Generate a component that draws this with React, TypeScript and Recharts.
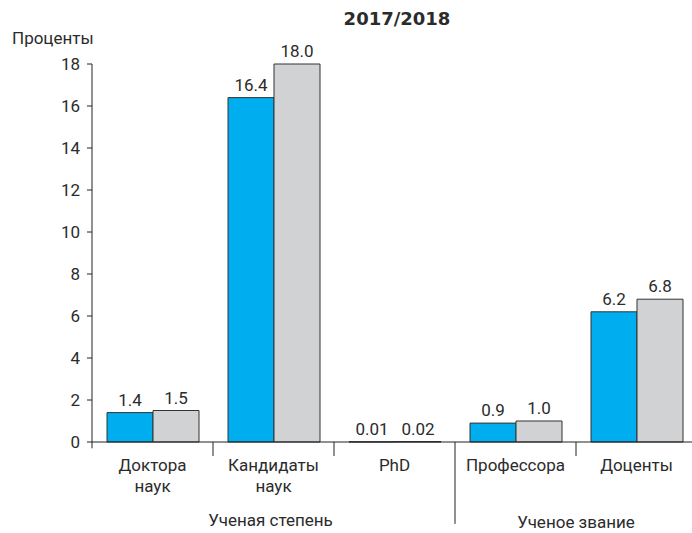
import React from 'react';
import { BarChart, Bar, XAxis, YAxis, LabelList, ReferenceLine } from 'recharts';

const categories = ['Доктора\nнаук', 'Кандидаты\nнаук', 'PhD', 'Профессора', 'Доценты'];
const blueValues = [1.4, 16.4, 0.01, 0.9, 6.2];
const grayValues = [1.5, 18.0, 0.02, 1.0, 6.8];
const yTicks = [0, 2, 4, 6, 8, 10, 12, 14, 16, 18];
const groupLabels = ['Ученая степень', 'Ученое звание'];

const data = categories.map((name, i) => ({ name, blue: blueValues[i], gray: grayValues[i] }));

const FONT = 'Roboto, "Liberation Sans", sans-serif';
const TEXT = '#2b2b2b';

const formatValue = (v: number) => (v < 0.1 ? v.toFixed(2) : v.toFixed(1));

function CategoryTick(props: any) {
  const { x, y, payload, index } = props;
  const lines = String(payload.value).split('\n');
  const half = payload.offset ?? 60;
  return (
    <g>
      <text x={x} y={y} textAnchor="middle" fill={TEXT} fontSize={17} fontFamily={FONT}>
        {lines.map((l, i) => (
          <tspan key={i} x={x} dy={i === 0 ? 21 : 21}>
            {l}
          </tspan>
        ))}
      </text>
      {index === 1 && (
        <text x={x - 3} y={y + 76} textAnchor="middle" fill={TEXT} fontSize={17} fontFamily={FONT}>
          {groupLabels[0]}
        </text>
      )}
      {index === 3 && (
        <text x={x + half} y={y + 78} textAnchor="middle" fill={TEXT} fontSize={17} fontFamily={FONT}>
          {groupLabels[1]}
        </text>
      )}
    </g>
  );
}

const separators = [
  { cat: categories[0], depth: -0.3 },
  { cat: categories[1], depth: -0.67 },
  { cat: categories[2], depth: -0.67 },
  { cat: categories[3], depth: -3.9 },
  { cat: categories[4], depth: -0.67 },
];

export default function App() {
  return (
    <div style={{ position: 'absolute', left: 0, top: 0, width: 692, height: 533, overflow: 'hidden', background: '#fff' }}>
      <div
        style={{
          position: 'absolute',
          left: 0,
          width: 794,
          top: 8,
          textAlign: 'center',
          fontFamily: '"DejaVu Sans", sans-serif',
          fontWeight: 'bold',
          fontSize: 18,
          color: TEXT,
        }}
      >
        2017/2018
      </div>
      <div style={{ position: 'absolute', left: 12, top: 28, fontFamily: FONT, fontSize: 17, color: TEXT }}>Проценты</div>
      <BarChart
        width={700}
        height={533}
        data={data}
        margin={{ top: 64, right: 3, bottom: 0, left: 0 }}
        barCategoryGap={15}
        barGap={0}
      >
        <YAxis
          domain={[0, 18]}
          ticks={yTicks}
          interval={0}
          width={92}
          tickSize={5}
          tickMargin={7}
          axisLine={{ stroke: '#222' }}
          tickLine={{ stroke: '#222' }}
          tick={{ fill: TEXT, fontSize: 17, fontFamily: FONT }}
        />
        <XAxis
          dataKey="name"
          interval={0}
          height={91}
          axisLine={{ stroke: '#222' }}
          tickLine={false}
          tick={<CategoryTick />}
        />
        {separators.map((s) => (
          <ReferenceLine
            key={s.cat}
            segment={[
              { x: s.cat, y: 0 },
              { x: s.cat, y: s.depth },
            ]}
            position="start"
            stroke="#222"
            ifOverflow="visible"
          />
        ))}
        <Bar dataKey="blue" fill="#00AEEF" stroke="#333" strokeWidth={1} isAnimationActive={false}>
          <LabelList dataKey="blue" position="top" offset={7} formatter={formatValue} fill={TEXT} fontSize={17} fontFamily={FONT} />
        </Bar>
        <Bar dataKey="gray" fill="#D1D2D4" stroke="#333" strokeWidth={1} isAnimationActive={false}>
          <LabelList dataKey="gray" position="top" offset={7} formatter={formatValue} fill={TEXT} fontSize={17} fontFamily={FONT} />
        </Bar>
      </BarChart>
    </div>
  );
}
